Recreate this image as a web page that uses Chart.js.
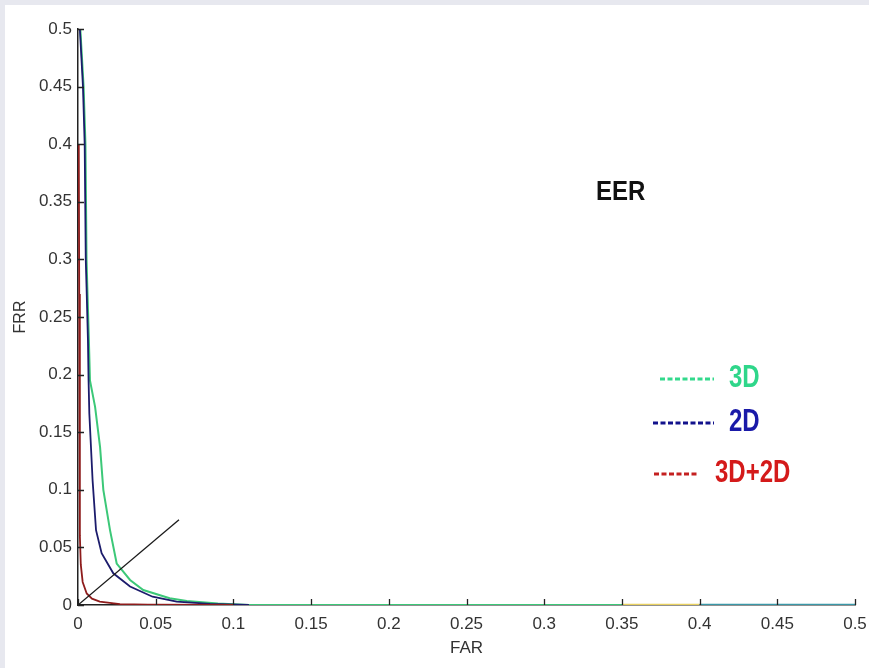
<!DOCTYPE html>
<html>
<head>
<meta charset="utf-8">
<script src="https://cdn.jsdelivr.net/npm/chart.js@4/dist/chart.umd.min.js"></script>
<style>
  html, body { margin: 0; padding: 0; background: #e7e8ef; }
  #wrap { position: absolute; left: 5px; top: 5px; width: 864px; height: 663px; background: #fff; }
</style>
</head>
<body>
<div id="wrap"><canvas id="myChart"></canvas></div>
<script>
// tick labels
const xTicks = [0, 0.05, 0.1, 0.15, 0.2, 0.25, 0.3, 0.35, 0.4, 0.45, 0.5];
const xTickLabels = ["0", "0.05", "0.1", "0.15", "0.2", "0.25", "0.3", "0.35", "0.4", "0.45", "0.5"];
const yTicks = [0, 0.05, 0.1, 0.15, 0.2, 0.25, 0.3, 0.35, 0.4, 0.45, 0.5];
const yTickLabels = ["0", "0.05", "0.1", "0.15", "0.2", "0.25", "0.3", "0.35", "0.4", "0.45", "0.5"];

// 3D curve (FAR, FRR)
const far3D = [0.0015, 0.0036, 0.0048, 0.0055, 0.006, 0.007, 0.0077, 0.011, 0.0142, 0.0163, 0.0206, 0.0249, 0.0335, 0.042, 0.059, 0.07, 0.09, 0.11, 0.35];
const frr3D = [0.5, 0.45, 0.4, 0.3, 0.276, 0.23, 0.195, 0.172, 0.137, 0.1, 0.065, 0.036, 0.0217, 0.013, 0.0058, 0.0035, 0.0012, 0, 0];

// 2D curve
const far2D = [0.0012, 0.0032, 0.0043, 0.005, 0.0055, 0.0064, 0.0068, 0.0073, 0.0094, 0.0116, 0.0152, 0.0227, 0.0335, 0.048, 0.0635, 0.085, 0.11];
const frr2D = [0.5, 0.45, 0.4, 0.3, 0.276, 0.23, 0.195, 0.166, 0.108, 0.065, 0.045, 0.0275, 0.016, 0.0072, 0.003, 0.001, 0];

// 3D+2D curve
const far3D2D = [0.0005, 0.0008, 0.0012, 0.0018, 0.003, 0.0056, 0.009, 0.014, 0.027, 0.045, 0.1];
const frr3D2D = [0.4, 0.27, 0.06, 0.035, 0.02, 0.01, 0.0055, 0.003, 0.0008, 0.0002, 0];

// EER diagonal
const eerX = [0, 0.065];
const eerY = [0, 0.074];

// tails along the axis
const tailYellowX = [0.35, 0.4];
const tailYellowY = [0, 0];
const tailTealX = [0.4, 0.5];
const tailTealY = [0, 0];

function pts(xs, ys) {
  return xs.map((x, i) => ({ x: x, y: ys[i] }));
}

function line(data, color, width) {
  return {
    data: data,
    borderColor: color,
    borderWidth: width,
    showLine: true,
    pointRadius: 0,
    tension: 0,
  };
}

// inward tick marks + text annotations
const extras = {
  id: "extras",
  afterDatasetsDraw(chart) {
    const ctx = chart.ctx;
    const xs = chart.scales.x;
    const ys = chart.scales.y;
    const a = chart.chartArea;
    ctx.save();
    ctx.strokeStyle = "#222";
    ctx.lineWidth = 1.3;
    ctx.beginPath();
    xTicks.forEach((v) => {
      const px = Math.round(xs.getPixelForValue(v)) + 0.5;
      ctx.moveTo(px, a.bottom);
      ctx.lineTo(px, a.bottom - 6);
    });
    yTicks.forEach((v) => {
      const py = Math.round(ys.getPixelForValue(v)) + 0.5;
      ctx.moveTo(a.left, py);
      ctx.lineTo(a.left + 6, py);
    });
    ctx.stroke();

    function label(text, x, y, color, sy) {
      ctx.save();
      ctx.translate(x, y);
      ctx.scale(1, sy);
      ctx.fillStyle = color;
      ctx.font = "bold 24px 'Liberation Sans', Arial, sans-serif";
      ctx.textAlign = "left";
      ctx.textBaseline = "middle";
      ctx.fillText(text, 0, 0);
      ctx.restore();
    }
    function dash(x1, x2, y, color) {
      ctx.save();
      ctx.strokeStyle = color;
      ctx.lineWidth = 3;
      ctx.setLineDash([5, 2.5]);
      ctx.beginPath();
      ctx.moveTo(x1, y);
      ctx.lineTo(x2, y);
      ctx.stroke();
      ctx.restore();
    }

    label("EER", 591, 187, "#111", 1.18);
    dash(655, 709, 374, "#33d98c");
    label("3D", 724, 374, "#2fd68a", 1.28);
    dash(648, 709, 418, "#12128c");
    label("2D", 724, 418, "#1a1aa8", 1.28);
    dash(649, 694, 469, "#c42020");
    label("3D+2D", 710, 469, "#d41a1a", 1.28);
    ctx.restore();
  },
};

const tickFont = { family: "'Liberation Sans', Arial, sans-serif", size: 17 };

// first dataset is painted on top
const config = {
  type: "scatter",
  data: {
    datasets: [
      line(pts(eerX, eerY), "#1a1a1a", 1.3),
      line(pts(far3D2D, frr3D2D), "#8e1c1c", 1.8),
      line(pts(far2D, frr2D), "#1c1c6c", 1.8),
      line(pts(far3D, frr3D), "#3cc878", 2),
      line(pts(tailTealX, tailTealY), "#3a98a8", 2.5),
      line(pts(tailYellowX, tailYellowY), "#e8d060", 2.5),
    ],
  },
  options: {
    responsive: true,
    maintainAspectRatio: false,
    animation: false,
    layout: { padding: { top: 24, right: 14, left: 0, bottom: 0 } },
    scales: {
      x: {
        type: "linear",
        min: 0,
        max: 0.5,
        afterBuildTicks: (axis) => {
          axis.ticks = xTicks.map((v) => ({ value: v }));
        },
        afterFit: (axis) => {
          axis.height = 63;
          axis.paddingLeft = 0;
          axis.paddingRight = 0;
        },
        grid: { display: true, drawOnChartArea: false, drawTicks: false },
        border: { display: true, color: "#222", width: 1.5 },
        ticks: {
          color: "#333",
          font: tickFont,
          padding: 9,
          maxRotation: 0,
          autoSkip: false,
          callback: (v, i) => xTickLabels[i],
        },
        title: {
          display: true,
          text: "FAR",
          color: "#333",
          font: tickFont,
          padding: { top: 0, bottom: 9 },
        },
      },
      y: {
        type: "linear",
        min: 0,
        max: 0.5,
        afterBuildTicks: (axis) => {
          axis.ticks = yTicks.map((v) => ({ value: v }));
        },
        afterFit: (axis) => {
          axis.width = 73;
        },
        grid: { display: true, drawOnChartArea: false, drawTicks: false },
        border: { display: true, color: "#222", width: 1.5 },
        ticks: {
          color: "#333",
          font: tickFont,
          padding: 6,
          autoSkip: false,
          callback: (v, i) => yTickLabels[i],
        },
        title: {
          display: true,
          text: "FRR",
          color: "#333",
          font: { family: "'Liberation Sans', Arial, sans-serif", size: 16 },
          padding: { top: 6, bottom: 0 },
        },
      },
    },
    plugins: {
      legend: { display: false },
      tooltip: { enabled: false },
    },
  },
  plugins: [extras],
};

const myChart = new Chart(document.getElementById("myChart"), config);
</script>
</body>
</html>
